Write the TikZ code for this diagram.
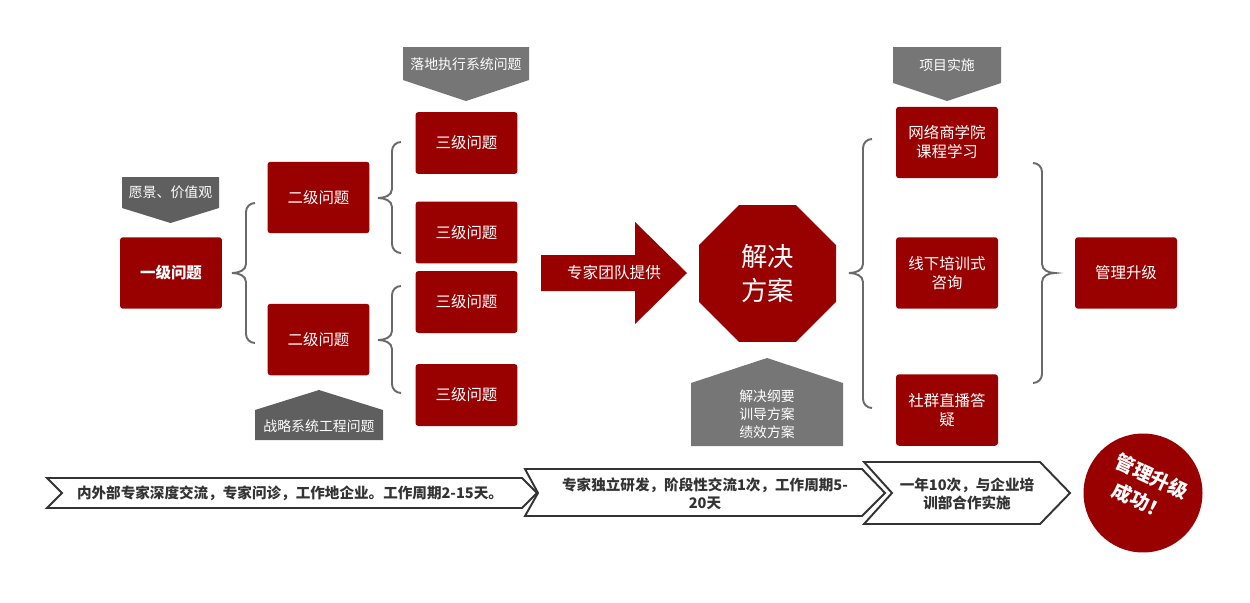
\documentclass[tikz,border=0pt]{standalone}
\usepackage{fontspec}
\setmainfont{Noto Sans CJK SC}
\usetikzlibrary{shapes.geometric}
\definecolor{darkred}{HTML}{990000}
\definecolor{tagdark}{HTML}{5F5F5F}
\definecolor{taglight}{HTML}{767676}
\definecolor{bracegray}{HTML}{6A6A6A}
\definecolor{stagegray}{HTML}{333333}

\begin{document}
\begin{tikzpicture}[x=0.02cm,y=-0.02cm,
    box/.style={fill=darkred,rounded corners=1.7pt,text=white,minimum width=2.04cm,
      minimum height=1.43cm,align=center,inner sep=1pt,font=\fontsize{8.8}{10.8}\selectfont},
    boxlow/.style={box,minimum height=1.24cm},
    tag/.style={text=white,align=center,inner sep=0pt,font=\fontsize{7.9}{10.2}\selectfont},
    brace/.style={draw=bracegray,line width=1.1pt},
    chev/.style={draw=stagegray,line width=1.1pt,fill=white},
    stage/.style={text=stagegray,align=center,inner sep=0pt,font=\bfseries\fontsize{8.3}{10.2}\selectfont}]
				% Canvas
				\useasboundingbox (0,0) rectangle (1250,602);
				% Problem levels
				\node[box,font=\bfseries\fontsize{8.8}{10.8}\selectfont] (lvlone) at (171,273) {一级问题};
				\node[box] (lvltwoa) at (318.5,197.5) {二级问题};
				\node[box] (lvltwob) at (318.5,339.5) {二级问题};
				\foreach \y [count=\i] in {143,232.5,302,395}
					\node[boxlow] (lvlthree\i) at (466.5,\y) {三级问题};
				% Braces opening to the right
				\foreach \tx/\ty/\ta/\tb in {232/273/203/343, 378/198/142/253, 378/340/286/393, 849/273/139/408}
					\draw[brace] (\tx+23,\ta) to[out=180,in=90] (\tx+14,\ta+9) -- (\tx+14,\ty-9)
						to[out=-90,in=0] (\tx,\ty) to[out=0,in=90] (\tx+14,\ty+9) -- (\tx+14,\tb-9)
						to[out=-90,in=180] (\tx+23,\tb);
				% Brace opening to the left
				\draw[brace] (1033,163) to[out=0,in=90] (1042,172) -- (1042,264) to[out=-90,in=180] (1055,273)
					to[out=180,in=90] (1042,282) -- (1042,374) to[out=-90,in=0] (1033,383);
				% Tags
				\fill[tagdark] (122,177) -- (219,177) -- (219,208) -- (170.5,223) -- (122,208) -- cycle;
				\node[tag] (vision) at (170.5,192.5) {愿景、价值观};
				\fill[taglight] (403,47) -- (529,47) -- (529,80) -- (466,101) -- (403,80) -- cycle;
				\node[tag] (landing) at (466,64) {落地执行系统问题};
				\fill[tagdark] (255,410) -- (319,390) -- (383,410) -- (383,440) -- (255,440) -- cycle;
				\node[tag] (strategy) at (319,426) {战略系统工程问题};
				\fill[taglight] (893,47) -- (1001,47) -- (1001,83) -- (947,101) -- (893,83) -- cycle;
				\node[tag] (project) at (947,65) {项目实施};
				\fill[taglight] (691,383) -- (767,358) -- (843,383) -- (843,446) -- (691,446) -- cycle;
				\node[tag] (outline) at (767,414.5) {解决纲要\\训导方案\\绩效方案};
				% Expert arrow
				\fill[darkred] (541,255) -- (635,255) -- (635,222) -- (687,273) -- (635,324) -- (635,291) -- (541,291) -- cycle;
				\node[text=white,inner sep=0pt,font=\fontsize{8.9}{10}\selectfont] (expert) at (614,273) {专家团队提供};
				% Solution
				\node[regular polygon,regular polygon sides=8,fill=darkred,minimum size=2.966cm,inner sep=0pt,
					text=white,align=center,font=\fontsize{15}{19.8}\selectfont] (plan) at (767.5,273.5) {解决\\方案};
				% Delivery
				\node[box] (online) at (947,142.5) {网络商学院\\课程学习};
				\node[box] (offline) at (947,273) {线下培训式\\咨询};
				\node[box] (community) at (947,410) {社群直播答\\疑};
				\node[box] (upgrade) at (1126,273) {管理升级};
				% Stages
				\draw[chev] (47,478) -- (522,478) -- (537,493) -- (522,508) -- (47,508) -- (62,493) -- cycle;
				\node[stage] (stagea) at (290,493) {内外部专家深度交流，专家问诊，工作地企业。工作周期2-15天。};
				\draw[chev] (525,469) -- (862,469) -- (885,493) -- (862,516) -- (525,516) -- (538,493) -- cycle;
				\node[stage] (stageb) at (705,494) {专家独立研发，阶段性交流1次，工作周期5-\\20天};
				\draw[chev] (864,462) -- (1040,462) -- (1070,493) -- (1040,524) -- (864,524) -- (892,493) -- cycle;
				\node[stage] (stagec) at (967,494) {一年10次，与企业培\\训部合作实施};
				% Success
				\node[circle,fill=darkred,minimum size=2.38cm,inner sep=0pt] (success) at (1143,493) {};
				\node[text=white,align=center,inner sep=0pt,rotate=-25,
					font=\bfseries\fontsize{11}{15.5}\selectfont] (successtext) at (1146,489) {管理升级\\成功！};
			\end{tikzpicture}
\end{document}
